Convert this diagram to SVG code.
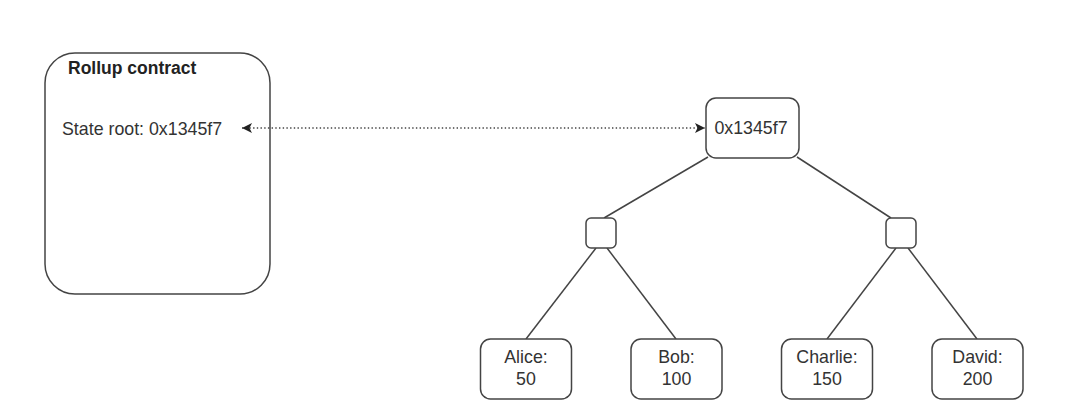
<svg xmlns="http://www.w3.org/2000/svg" width="1065" height="412" viewBox="0 0 1065 412">
<style>
.box{fill:#fff;stroke:#444;stroke-width:1.5}
.t{font-family:"Liberation Sans",Arial,sans-serif;font-size:17.8px;fill:#333}
.b{font-weight:bold;font-size:17.5px;fill:#222}
.edge{stroke:#444;stroke-width:1.5;fill:none}
.dot{stroke:#444;stroke-width:1.4;fill:none;stroke-dasharray:1.4 2.3}
</style>
<defs>
<marker id="ah" viewBox="0 0 10 10" refX="10" refY="5" markerWidth="12" markerHeight="10" markerUnits="userSpaceOnUse" orient="auto-start-reverse">
<path d="M0,0 L10,5 L0,10 L2.5,5 Z" fill="#222"/>
</marker>
</defs>
<rect width="1065" height="412" fill="#fff"/>
<g id="rollup">
<rect class="box" x="45" y="53" width="225" height="241" rx="30"/>
<text class="t b" x="68" y="74">Rollup contract</text>
<text class="t" x="62" y="135">State root: 0x1345f7</text>
</g>
<g id="connectors">
<line class="dot" x1="242" y1="128" x2="705" y2="128" marker-start="url(#ah)" marker-end="url(#ah)"/>
<line class="edge" x1="708" y1="157" x2="604" y2="218"/>
<line class="edge" x1="797" y1="157" x2="891" y2="218"/>
<line class="edge" x1="596" y1="248" x2="526" y2="339"/>
<line class="edge" x1="607" y1="248" x2="676" y2="339"/>
<line class="edge" x1="896" y1="248" x2="827" y2="339"/>
<line class="edge" x1="908" y1="248" x2="977" y2="339"/>
</g>
<g id="root">
<rect class="box" x="706" y="98" width="93" height="60" rx="10"/>
<text class="t" x="751" y="134" text-anchor="middle">0x1345f7</text>
</g>
<g id="h-left">
<rect class="box" x="586" y="218" width="30" height="30" rx="5"/>
</g>
<g id="h-right">
<rect class="box" x="886" y="218" width="30" height="30" rx="5"/>
</g>
<g id="alice">
<rect class="box" x="480.5" y="339" width="91" height="60" rx="10"/>
<text class="t" x="526" y="363" text-anchor="middle">Alice:</text>
<text class="t" x="526" y="385" text-anchor="middle">50</text>
</g>
<g id="bob">
<rect class="box" x="631" y="339" width="91" height="60" rx="10"/>
<text class="t" x="676.5" y="363" text-anchor="middle">Bob:</text>
<text class="t" x="676.5" y="385" text-anchor="middle">100</text>
</g>
<g id="charlie">
<rect class="box" x="781.5" y="339" width="91" height="60" rx="10"/>
<text class="t" x="827" y="363" text-anchor="middle">Charlie:</text>
<text class="t" x="827" y="385" text-anchor="middle">150</text>
</g>
<g id="david">
<rect class="box" x="932" y="339" width="91" height="60" rx="10"/>
<text class="t" x="977.5" y="363" text-anchor="middle">David:</text>
<text class="t" x="977.5" y="385" text-anchor="middle">200</text>
</g>
</svg>
